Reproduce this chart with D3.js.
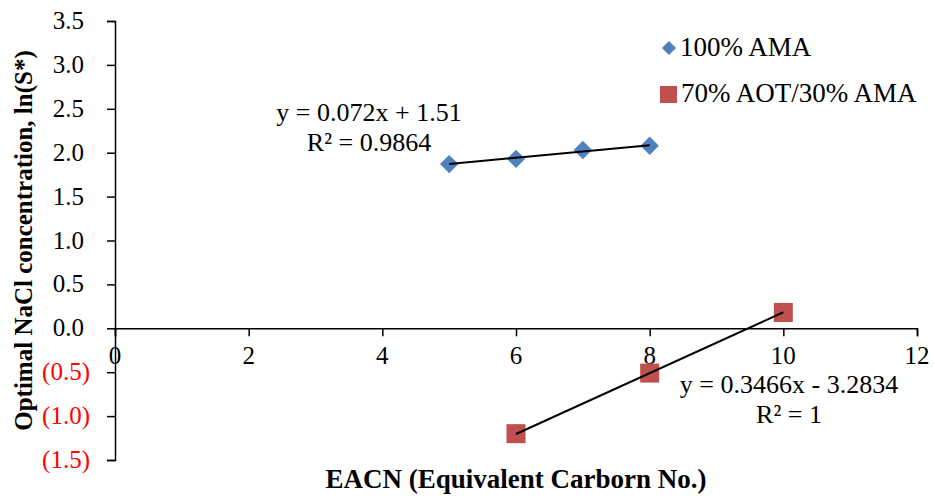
<!DOCTYPE html>
<html>
<head>
<meta charset="utf-8">
<script src="https://cdn.jsdelivr.net/npm/d3@7"></script>
<style>
  body { margin: 0; background: #fff; }
  svg { display: block; font-family: "Liberation Serif", "Times New Roman", serif; }
  .axis path, .axis line { stroke: #000; stroke-width: 1.5; }
</style>
</head>
<body>
<svg width="935" height="498"></svg>
<script>
// series 1: 100% AMA
var amaX = [5, 6, 7, 8];
var amaY = [1.87, 1.93, 2.03, 2.08];
// series 2: 70% AOT/30% AMA
var aotX = [6, 8, 10];
var aotY = [-1.20, -0.51, 0.18];

// trendline coefficients as printed on the chart
var amaFit = [0.072, 1.51];
var aotFit = [0.3466, -3.2834];

var seriesNames = ["100% AMA", "70% AOT/30% AMA"];
var xTicks = [0, 2, 4, 6, 8, 10, 12];
var yTicks = [-1.5, -1.0, -0.5, 0, 0.5, 1.0, 1.5, 2.0, 2.5, 3.0, 3.5];

var blue = "#4f81bd", red = "#c0504d";

var svg = d3.select("svg");
var margin = {top: 21, left: 115, right: 18, bottom: 38};
var width = 917 - margin.left, height = 460 - margin.top;

var x = d3.scaleLinear().domain([0, 12]).range([margin.left, margin.left + width]);
var y = d3.scaleLinear().domain([-1.5, 3.5]).range([margin.top + height, margin.top]);

var fmt = d3.format(".1f");

// axes: lines and tick marks only, labels drawn below in the serif font
svg.append("g")
  .attr("class", "axis")
  .attr("transform", "translate(" + x(0) + ",0)")
  .call(d3.axisLeft(y).tickValues(yTicks).tickSizeOuter(0).tickSize(8).tickFormat(""));

svg.append("g")
  .attr("class", "axis")
  .attr("transform", "translate(0," + y(0) + ")")
  .call(d3.axisBottom(x).tickValues(xTicks).tickSizeOuter(0).tickSize(8).tickFormat(""));

// y labels, accounting style: negatives in red brackets, positives padded
var yLabels = svg.append("g").attr("class", "ylabels");
yLabels.selectAll("text").data(yTicks).enter().append("text")
  .attr("font-family", "Liberation Serif")
  .attr("font-size", "25px")
  .attr("x", x(0) - 25)
  .attr("y", function(d) { return y(d); })
  .attr("dy", "0.32em")
  .attr("dx", function(d) { return d < 0 ? 0 : -6; })
  .attr("text-anchor", "end")
  .attr("fill", function(d) { return d < 0 ? "#ff0000" : "#000"; })
  .text(function(d) { return d < 0 ? "(" + fmt(-d) + ")" : fmt(d); });

var xLabels = svg.append("g").attr("class", "xlabels");
xLabels.selectAll("text").data(xTicks).enter().append("text")
  .attr("font-family", "Liberation Serif")
  .attr("font-size", "25px")
  .attr("x", function(d) { return x(d); })
  .attr("y", y(0) + 18)
  .attr("dy", "0.71em")
  .attr("text-anchor", "middle")
  .attr("fill", "#000")
  .text(d3.format("d"));

// axis titles
svg.append("text")
  .attr("x", (x(0) + x(12)) / 2)
  .attr("y", 488)
  .attr("text-anchor", "middle")
  .attr("font-size", "27px")
  .attr("font-weight", "bold")
  .text("EACN (Equivalent Carborn No.)");

svg.append("text")
  .attr("transform", "translate(32," + (margin.top + height / 2) + ") rotate(-90)")
  .attr("text-anchor", "middle")
  .attr("font-size", "25px")
  .attr("font-weight", "bold")
  .text("Optimal NaCl concentration, ln(S*)");

// markers
var ama = amaX.map(function(d, i) { return {x: d, y: amaY[i]}; });
var aot = aotX.map(function(d, i) { return {x: d, y: aotY[i]}; });

svg.selectAll(".ama").data(ama).enter().append("path")
  .attr("class", "ama")
  .attr("d", d3.symbol().type(d3.symbolSquare).size(170))
  .attr("transform", function(d) { return "translate(" + x(d.x) + "," + y(d.y) + ") rotate(45)"; })
  .attr("fill", blue);

svg.selectAll(".aot").data(aot).enter().append("rect")
  .attr("class", "aot")
  .attr("x", function(d) { return x(d.x) - 9.5; })
  .attr("y", function(d) { return y(d.y) - 9.5; })
  .attr("width", 19).attr("height", 19)
  .attr("fill", red);

// trendlines
function trend(xs, fit) {
  var x0 = d3.min(xs), x1 = d3.max(xs);
  svg.append("line")
    .attr("x1", x(x0)).attr("y1", y(fit[0] * x0 + fit[1]))
    .attr("x2", x(x1)).attr("y2", y(fit[0] * x1 + fit[1]))
    .attr("stroke", "#000").attr("stroke-width", 2);
}
trend(amaX, amaFit);
trend(aotX, aotFit);

// trendline labels
function label(cx, cy, lines) {
  var t = svg.append("text").attr("text-anchor", "middle").attr("font-size", "26px");
  lines.forEach(function(s, i) {
    t.append("tspan").attr("x", cx).attr("y", cy + i * 30).text(s);
  });
}
label(369, 121, ["y = " + amaFit[0] + "x + " + amaFit[1], "R\u00b2 = 0.9864"]);
label(789, 393, ["y = " + aotFit[0] + "x - " + Math.abs(aotFit[1]), "R\u00b2 = 1"]);

// legend
var legend = svg.append("g").attr("font-size", "27px");
legend.append("path")
  .attr("d", d3.symbol().type(d3.symbolSquare).size(100))
  .attr("transform", "translate(669,48) rotate(45)")
  .attr("fill", blue);
legend.append("text").attr("x", 680).attr("y", 56).text(seriesNames[0]);
legend.append("rect")
  .attr("x", 660).attr("y", 86).attr("width", 17).attr("height", 17)
  .attr("fill", red);
legend.append("text").attr("x", 681).attr("y", 102).text(seriesNames[1]);
</script>
</body>
</html>
